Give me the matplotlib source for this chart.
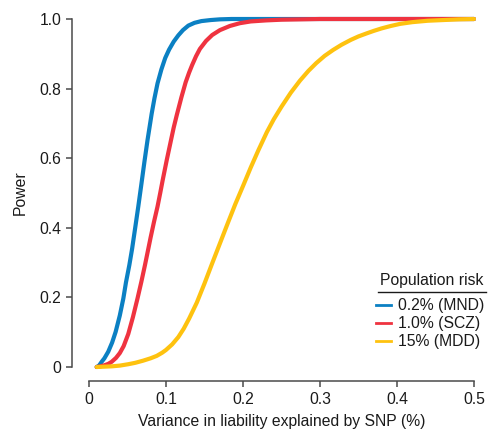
import matplotlib
matplotlib.use("Agg")
import matplotlib.pyplot as plt
from matplotlib.lines import Line2D

plt.rcParams["font.family"] = ["Liberation Sans", "DejaVu Sans"]

# Power curves (x: variance in liability explained, %)
mnd_x = [0.010, 0.013, 0.0165, 0.020, 0.025, 0.030, 0.0346, 0.040, 0.0446,
         0.048, 0.0524, 0.056, 0.060, 0.064, 0.068, 0.072, 0.076, 0.0814,
         0.085, 0.089, 0.094, 0.099, 0.104, 0.110, 0.116, 0.122, 0.129,
         0.137, 0.146, 0.158, 0.170, 0.185, 0.200, 0.300, 0.400, 0.500]
mnd_y = [0.000, 0.004, 0.015, 0.025, 0.044, 0.070, 0.101, 0.148, 0.197,
         0.243, 0.293, 0.340, 0.400, 0.461, 0.525, 0.590, 0.652, 0.728,
         0.772, 0.815, 0.855, 0.888, 0.912, 0.935, 0.953, 0.968, 0.981,
         0.989, 0.994, 0.997, 0.999, 1.000, 1.000, 1.000, 1.000, 1.000]

scz_x = [0.010, 0.015, 0.020, 0.025, 0.0295, 0.035, 0.040, 0.045, 0.051,
         0.057, 0.063, 0.068, 0.0727, 0.0765, 0.080, 0.0845, 0.089, 0.0925,
         0.0957, 0.101, 0.1065, 0.110, 0.114, 0.120, 0.1255, 0.130, 0.134,
         0.139, 0.144, 0.152, 0.160, 0.170, 0.183, 0.196, 0.210, 0.230,
         0.250, 0.275, 0.300, 0.400, 0.500]
scz_y = [0.000, 0.002, 0.005, 0.009, 0.015, 0.026, 0.040, 0.060, 0.095,
         0.143, 0.197, 0.245, 0.293, 0.334, 0.372, 0.418, 0.461, 0.500,
         0.537, 0.595, 0.652, 0.688, 0.724, 0.775, 0.818, 0.846, 0.868,
         0.893, 0.914, 0.937, 0.954, 0.968, 0.980, 0.988, 0.993, 0.996,
         0.998, 0.999, 1.000, 1.000, 1.000]

mdd_x = [0.010, 0.020, 0.030, 0.040, 0.051, 0.060, 0.070, 0.080, 0.088,
         0.095, 0.100, 0.108, 0.116, 0.123, 0.130, 0.140, 0.150, 0.160,
         0.170, 0.180, 0.190, 0.200, 0.210, 0.220, 0.231, 0.240, 0.250,
         0.262, 0.274, 0.285, 0.295, 0.306, 0.317, 0.328, 0.340, 0.350,
         0.361, 0.370, 0.380, 0.392, 0.404, 0.420, 0.440, 0.460, 0.480, 0.500]
mdd_y = [0.000, 0.001, 0.002, 0.004, 0.008, 0.012, 0.018, 0.025, 0.032,
         0.041, 0.049, 0.065, 0.086, 0.110, 0.139, 0.185, 0.240, 0.298,
         0.355, 0.412, 0.468, 0.520, 0.573, 0.623, 0.675, 0.712, 0.748,
         0.788, 0.823, 0.851, 0.873, 0.894, 0.911, 0.926, 0.940, 0.950,
         0.959, 0.966, 0.973, 0.980, 0.986, 0.991, 0.995, 0.997, 0.999, 1.000]

labels = ["0.2% (MND)", "1.0% (SCZ)", "15% (MDD)"]
colors = ["#0b80c3", "#ef3340", "#fec20f"]

xticks = [0, 0.1, 0.2, 0.3, 0.4, 0.5]
xticklabels = ["0", "0.1", "0.2", "0.3", "0.4", "0.5"]
yticks = [0, 0.2, 0.4, 0.6, 0.8, 1.0]
yticklabels = ["0", "0.2", "0.4", "0.6", "0.8", "1.0"]

W, H = 493, 432
fs = 11.3
txt = "#1a1a1a"

fig = plt.figure(figsize=(W / 100, H / 100), dpi=100)
ax = fig.add_axes([89 / W, 1 - 367 / H, (474 - 89) / W, (367 - 19) / H])

series = [(mnd_x, mnd_y), (scz_x, scz_y), (mdd_x, mdd_y)]
for (xs, ys), lab, c in zip(series, labels, colors):
    ax.plot(xs, ys, color=c, lw=3, label=lab, clip_on=False,
            solid_capstyle="round", solid_joinstyle="round")

ax.set_xlim(0, 0.5)
ax.set_ylim(0, 1)
ax.set_xticks(xticks)
ax.set_xticklabels(xticklabels)
ax.set_yticks(yticks)
ax.set_yticklabels(yticklabels)

spine_col = "#4a4a4a"
for s in ["top", "right"]:
    ax.spines[s].set_visible(False)
ax.spines["left"].set_position(("outward", 12))
ax.spines["bottom"].set_position(("outward", 10))
for s in ["left", "bottom"]:
    ax.spines[s].set_color(spine_col)
    ax.spines[s].set_linewidth(1.1)
ax.tick_params(direction="out", length=4, width=1.1, color=spine_col,
               labelsize=fs, labelcolor=txt, pad=4)

ax.set_xlabel("Variance in liability explained by SNP (%)", fontsize=fs,
              color=txt, labelpad=5)
ax.set_ylabel("Power", fontsize=fs, color=txt, labelpad=8)

# legend entries (title drawn separately with its underline)
handles = [Line2D([0], [0], color=c, lw=2) for c in colors]
leg = fig.legend(handles, labels, frameon=False, loc="upper left",
                 bbox_to_anchor=(376 / W, 1 - 298 / H), fontsize=fs,
                 handlelength=0.95, handletextpad=0.45, labelspacing=0.2,
                 borderpad=0, borderaxespad=0)
for t in leg.get_texts():
    t.set_color(txt)

fig.text(432 / W, 1 - 285 / H, "Population risk", ha="center",
         va="baseline", fontsize=fs, color=txt)
fig.add_artist(Line2D([378 / W, 486 / W], [1 - 292 / H, 1 - 292 / H],
                      color=txt, lw=1.0))

fig.savefig("out.png", dpi=100)
